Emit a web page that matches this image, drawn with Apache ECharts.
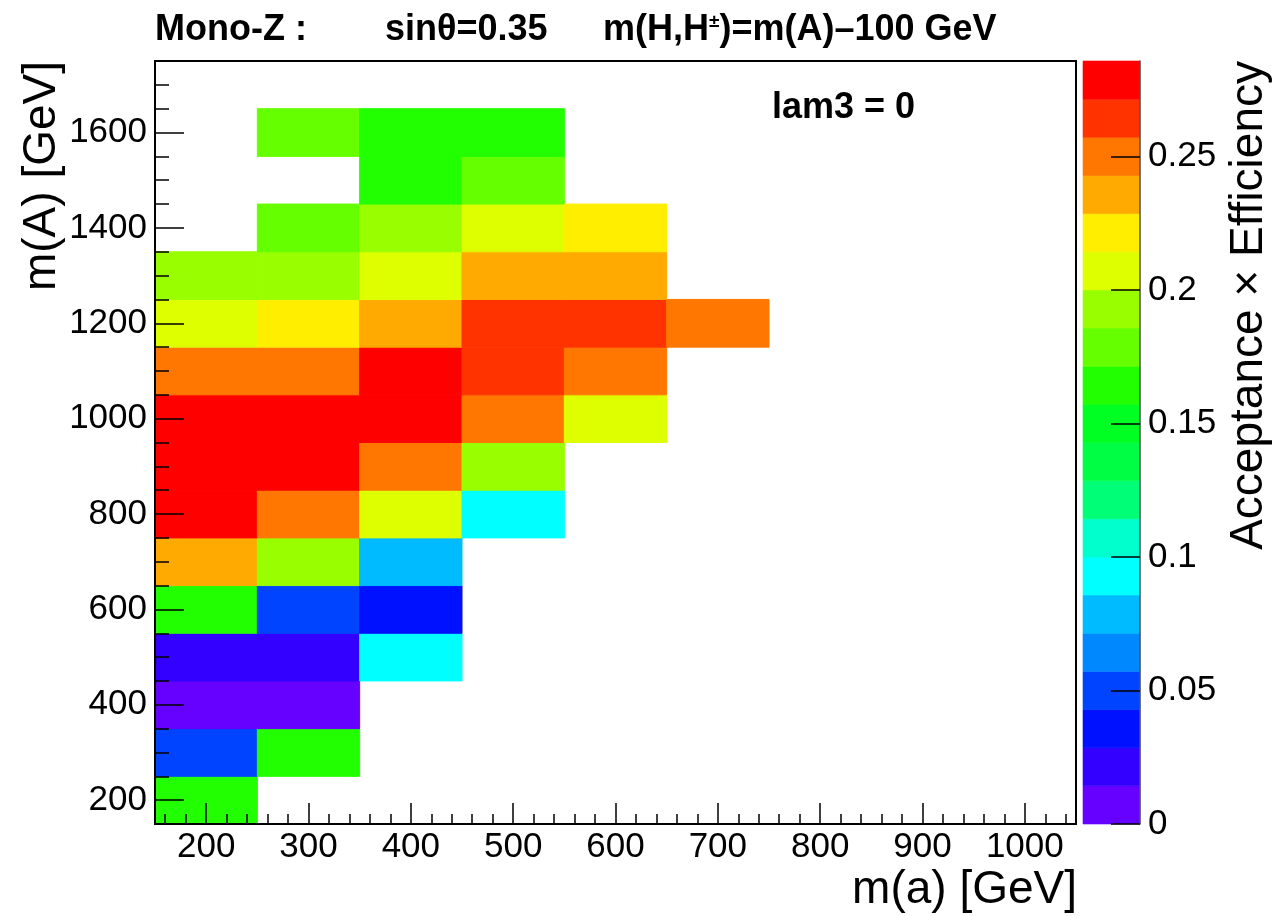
<!DOCTYPE html>
<html>
<head>
<meta charset="utf-8">
<script src="https://cdn.jsdelivr.net/npm/echarts@6/dist/echarts.min.js"></script>
<style>
html,body{margin:0;padding:0;background:#fff;}
#chart{width:1280px;height:916px;}
</style>
</head>
<body>
<div id="chart"></div>
<script>
// ---- data ----
// bin centres of m(a) [GeV] (x) and m(A) [GeV] (y)
const massSmallA = [200, 300, 400, 500, 600, 700, 800, 900, 1000];
const massBigA = [200, 300, 400, 500, 600, 700, 800, 900, 1000, 1100, 1200, 1300, 1400, 1500, 1600, 1700];
// acceptance x efficiency, one row per m(A), columns follow massSmallA (null = empty)
const effRows = [
  [0.163],                                   // 200
  [0.049, 0.166],                            // 300
  [0.009, 0.006],                            // 400
  [0.022, 0.020, 0.094],                     // 500
  [0.161, 0.051, 0.037],                     // 600
  [0.235, 0.192, 0.080],                     // 700
  [0.280, 0.251, 0.206, 0.092],              // 800
  [0.282, 0.277, 0.249, 0.194],              // 900
  [0.284, 0.281, 0.278, 0.252, 0.208],       // 1000
  [0.253, 0.247, 0.279, 0.264, 0.248],       // 1100
  [0.205, 0.221, 0.237, 0.266, 0.263, 0.250],// 1200
  [0.194, 0.196, 0.210, 0.238, 0.235],       // 1300
  [null, 0.180, 0.192, 0.207, 0.219],        // 1400
  [null, null, 0.167, 0.178],                // 1500
  [null, 0.178, 0.165, 0.162],               // 1600
  []                                         // 1700
];
// tick labels
const xTickValues = [200, 300, 400, 500, 600, 700, 800, 900, 1000];
const yTickValues = [200, 400, 600, 800, 1000, 1200, 1400, 1600];
const zTickValues = [0, 0.05, 0.1, 0.15, 0.2, 0.25];
const Z_MAX = 0.2859;
const N_CONTOURS = 20;
const palette = ['#6600ff','#3300ff','#0011ff','#0044ff','#0088ff','#00bbff','#00ffff','#00ffcc','#00ff77','#00ff44',
                 '#00ff22','#22ff00','#66ff00','#99ff00','#ddff00','#ffee00','#ffaa00','#ff7700','#ff3300','#ff0000'];

// ---- build ----
const FONT = '"Liberation Sans", Arial, Helvetica, sans-serif';
const X_RANGE = [150, 1050], Y_RANGE = [150, 1750];
const halfX = (massSmallA[1] - massSmallA[0]) / 2;
const halfY = (massBigA[1] - massBigA[0]) / 2;

const cells = [];
effRows.forEach((row, j) => {
  row.forEach((v, i) => { if (v !== null && v !== undefined) cells.push([massSmallA[i], massBigA[j], v]); });
});

const levelStep = Z_MAX / N_CONTOURS;
const pieces = palette.map((c, i) => ({ gte: i * levelStep, lt: (i + 1) * levelStep + (i === N_CONTOURS - 1 ? 1 : 0), color: c }));
const bands = palette.map((c, i) => [i * levelStep, (i + 1) * levelStep, i]);

const xMinor = [], yMinor = [];
for (let v = X_RANGE[0] + 10; v < X_RANGE[1]; v += 20) { if (v % 100 !== 0) xMinor.push(v); }
for (let v = Y_RANGE[0] + 50; v < Y_RANGE[1]; v += 50) { if (v % 200 !== 0) yMinor.push(v); }

const tickStyle = { color: '#000', width: 1.5 };
const plainFmt = function (v) { return String(v); };
const labelStyle = { fontSize: 35, color: '#000', fontFamily: FONT, formatter: plainFmt };

const option = {
  animation: false,
  backgroundColor: '#ffffff',
  grid: [
    { left: 155, top: 61, width: 921, height: 763, show: true, borderColor: '#000', borderWidth: 2, backgroundColor: 'transparent', outerBoundsMode: 'none', containLabel: false },
    { left: 1083, top: 61, width: 57, height: 763, outerBoundsMode: 'none', containLabel: false }
  ],
  visualMap: {
    type: 'piecewise', show: false, seriesIndex: 0, dimension: 2, pieces: pieces
  },
  xAxis: [
    { gridIndex: 0, type: 'value', min: X_RANGE[0], max: X_RANGE[1], position: 'bottom', z: 5,
      axisLine: { show: true, onZero: false, lineStyle: { color: '#000', width: 2 } },
      axisTick: { show: true, inside: true, length: 21, customValues: xTickValues, lineStyle: tickStyle },
      axisLabel: Object.assign({ show: true, customValues: xTickValues, margin: 6 }, labelStyle),
      splitLine: { show: false } },
    { gridIndex: 0, type: 'value', min: X_RANGE[0], max: X_RANGE[1], position: 'bottom', z: 5,
      axisLine: { show: false },
      axisTick: { show: true, inside: true, length: 10, customValues: xMinor, lineStyle: tickStyle },
      axisLabel: { show: false }, splitLine: { show: false } },
    { gridIndex: 1, type: 'value', min: 0, max: 1, show: false }
  ],
  yAxis: [
    { gridIndex: 0, type: 'value', min: Y_RANGE[0], max: Y_RANGE[1], position: 'left', z: 5,
      axisLine: { show: true, onZero: false, lineStyle: { color: '#000', width: 2 } },
      axisTick: { show: true, inside: true, length: 29, customValues: yTickValues, lineStyle: tickStyle },
      axisLabel: Object.assign({ show: true, customValues: yTickValues, margin: 8 }, labelStyle),
      splitLine: { show: false } },
    { gridIndex: 0, type: 'value', min: Y_RANGE[0], max: Y_RANGE[1], position: 'left', z: 5,
      axisLine: { show: false },
      axisTick: { show: true, inside: true, length: 14, customValues: yMinor, lineStyle: tickStyle },
      axisLabel: { show: false }, splitLine: { show: false } },
    { gridIndex: 1, type: 'value', min: 0, max: Z_MAX, position: 'right', z: 5,
      axisLine: { show: true, onZero: false, lineStyle: { color: '#555', width: 1.5 } },
      axisTick: { show: true, inside: true, length: 29, customValues: zTickValues, lineStyle: tickStyle },
      axisLabel: Object.assign({ show: true, customValues: zTickValues, margin: 8 }, labelStyle),
      splitLine: { show: false } }
  ],
  series: [
    { type: 'custom', name: 'eff', xAxisIndex: 0, yAxisIndex: 0, z: 1, clip: true,
      encode: { x: 0, y: 1 },
      data: cells,
      renderItem: function (params, api) {
        const x = api.value(0), y = api.value(1);
        const p0 = api.coord([x - halfX, y + halfY]);
        const p1 = api.coord([x + halfX, y - halfY]);
        const col = api.visual('color');
        return { type: 'rect', shape: { x: p0[0], y: p0[1], width: p1[0] - p0[0], height: p1[1] - p0[1] },
                 style: { fill: col, stroke: col, lineWidth: 1 } };
      } },
    { type: 'custom', name: 'palette', xAxisIndex: 2, yAxisIndex: 2, z: 1,
      data: bands,
      renderItem: function (params, api) {
        const lo = api.value(0), hi = api.value(1), idx = api.value(2);
        const p0 = api.coord([0, hi]);
        const p1 = api.coord([1, lo]);
        const col = palette[idx];
        return { type: 'rect', shape: { x: p0[0], y: p0[1], width: p1[0] - p0[0], height: p1[1] - p0[1] },
                 style: { fill: col, stroke: col, lineWidth: 0.6 } };
      } }
  ],
  graphic: [
    { type: 'text', left: 155, top: 12, z: 10,
      style: { text: 'Mono-Z :', fontSize: 36, fontWeight: 'bold', fontFamily: FONT, fill: '#000' } },
    { type: 'text', left: 385, top: 12, z: 10,
      style: { text: 'sinθ=0.35', fontSize: 36, fontWeight: 'bold', fontFamily: FONT, fill: '#000' } },
    { type: 'text', left: 603, top: 12, z: 10,
      style: { text: '{a|m(H,H}{s|±}{a|)=m(A)–100 GeV}', fontSize: 36, fontWeight: 'bold', fontFamily: FONT, fill: '#000',
               rich: { a: { fontSize: 36, fontWeight: 'bold', fontFamily: FONT, fill: '#000' },
                       s: { fontSize: 19, fontWeight: 'bold', fontFamily: FONT, fill: '#000', verticalAlign: 'top', padding: [0, 0, 15, 0] } } } },
    { type: 'text', left: 772, top: 90, z: 10,
      style: { text: 'lam3 = 0', fontSize: 36, fontWeight: 'bold', fontFamily: FONT, fill: '#000' } },
    { type: 'text', x: 1077, y: 890, z: 10,
      style: { text: 'm(a) [GeV]', fontSize: 46, fontFamily: FONT, fill: '#000', align: 'right', verticalAlign: 'middle' } },
    { type: 'text', x: 42, y: 61, rotation: Math.PI / 2, z: 10,
      style: { text: 'm(A) [GeV]', fontSize: 46, fontFamily: FONT, fill: '#000', align: 'right', verticalAlign: 'middle' } },
    { type: 'text', x: 1249, y: 61, rotation: Math.PI / 2, z: 10,
      style: { text: 'Acceptance × Efficiency', fontSize: 46, fontFamily: FONT, fill: '#000', align: 'right', verticalAlign: 'middle' } }
  ]
};

const chart = echarts.init(document.getElementById('chart'), null, { renderer: 'canvas', width: 1280, height: 916 });
chart.setOption(option);
</script>
</body>
</html>
